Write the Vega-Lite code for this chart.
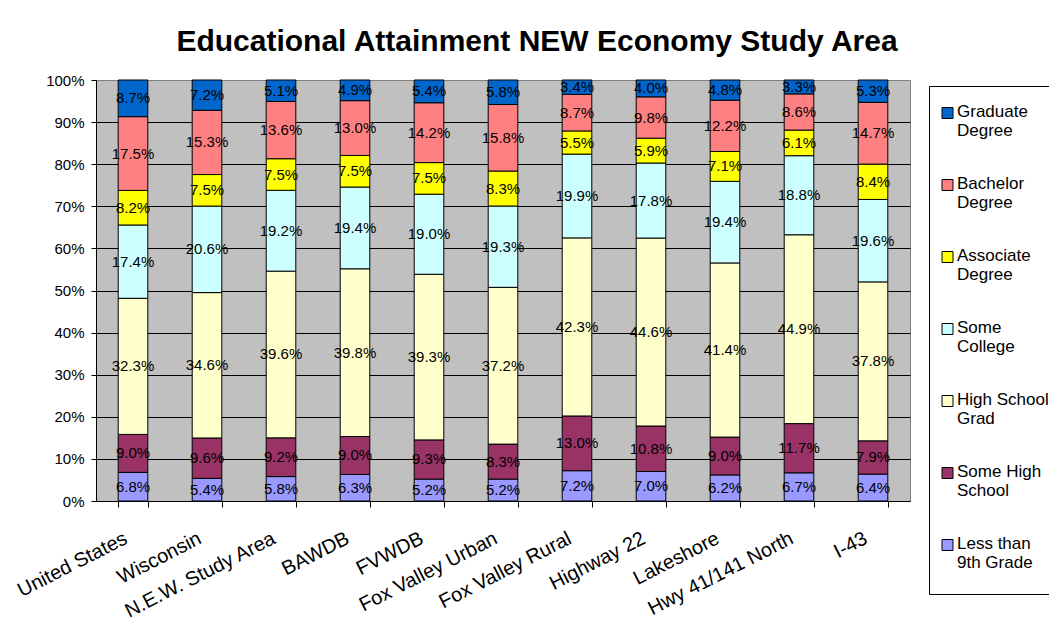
{
  "$schema": "https://vega.github.io/schema/vega-lite/v6.json",
  "width": 814,
  "height": 421,
  "autosize": "none",
  "padding": {"left": 96, "top": 80, "right": 139, "bottom": 118},
  "background": "white",
  "title": {"text": "Educational Attainment NEW Economy Study Area", "fontSize": 30, "fontWeight": "bold", "font": "Liberation Sans", "color": "black", "anchor": "middle", "dx": 34, "offset": 16},
  "data": {"values": [
    {"area": "United States", "level": 1, "education": "Less than 9th Grade", "share": 0.068},
    {"area": "United States", "level": 2, "education": "Some High School", "share": 0.090},
    {"area": "United States", "level": 3, "education": "High School Grad", "share": 0.323},
    {"area": "United States", "level": 4, "education": "Some College", "share": 0.174},
    {"area": "United States", "level": 5, "education": "Associate Degree", "share": 0.082},
    {"area": "United States", "level": 6, "education": "Bachelor Degree", "share": 0.175},
    {"area": "United States", "level": 7, "education": "Graduate Degree", "share": 0.087},
    {"area": "Wisconsin", "level": 1, "education": "Less than 9th Grade", "share": 0.054},
    {"area": "Wisconsin", "level": 2, "education": "Some High School", "share": 0.096},
    {"area": "Wisconsin", "level": 3, "education": "High School Grad", "share": 0.346},
    {"area": "Wisconsin", "level": 4, "education": "Some College", "share": 0.206},
    {"area": "Wisconsin", "level": 5, "education": "Associate Degree", "share": 0.075},
    {"area": "Wisconsin", "level": 6, "education": "Bachelor Degree", "share": 0.153},
    {"area": "Wisconsin", "level": 7, "education": "Graduate Degree", "share": 0.072},
    {"area": "N.E.W. Study Area", "level": 1, "education": "Less than 9th Grade", "share": 0.058},
    {"area": "N.E.W. Study Area", "level": 2, "education": "Some High School", "share": 0.092},
    {"area": "N.E.W. Study Area", "level": 3, "education": "High School Grad", "share": 0.396},
    {"area": "N.E.W. Study Area", "level": 4, "education": "Some College", "share": 0.192},
    {"area": "N.E.W. Study Area", "level": 5, "education": "Associate Degree", "share": 0.075},
    {"area": "N.E.W. Study Area", "level": 6, "education": "Bachelor Degree", "share": 0.136},
    {"area": "N.E.W. Study Area", "level": 7, "education": "Graduate Degree", "share": 0.051},
    {"area": "BAWDB", "level": 1, "education": "Less than 9th Grade", "share": 0.063},
    {"area": "BAWDB", "level": 2, "education": "Some High School", "share": 0.090},
    {"area": "BAWDB", "level": 3, "education": "High School Grad", "share": 0.398},
    {"area": "BAWDB", "level": 4, "education": "Some College", "share": 0.194},
    {"area": "BAWDB", "level": 5, "education": "Associate Degree", "share": 0.075},
    {"area": "BAWDB", "level": 6, "education": "Bachelor Degree", "share": 0.130},
    {"area": "BAWDB", "level": 7, "education": "Graduate Degree", "share": 0.049},
    {"area": "FVWDB", "level": 1, "education": "Less than 9th Grade", "share": 0.052},
    {"area": "FVWDB", "level": 2, "education": "Some High School", "share": 0.093},
    {"area": "FVWDB", "level": 3, "education": "High School Grad", "share": 0.393},
    {"area": "FVWDB", "level": 4, "education": "Some College", "share": 0.190},
    {"area": "FVWDB", "level": 5, "education": "Associate Degree", "share": 0.075},
    {"area": "FVWDB", "level": 6, "education": "Bachelor Degree", "share": 0.142},
    {"area": "FVWDB", "level": 7, "education": "Graduate Degree", "share": 0.054},
    {"area": "Fox Valley Urban", "level": 1, "education": "Less than 9th Grade", "share": 0.052},
    {"area": "Fox Valley Urban", "level": 2, "education": "Some High School", "share": 0.083},
    {"area": "Fox Valley Urban", "level": 3, "education": "High School Grad", "share": 0.372},
    {"area": "Fox Valley Urban", "level": 4, "education": "Some College", "share": 0.193},
    {"area": "Fox Valley Urban", "level": 5, "education": "Associate Degree", "share": 0.083},
    {"area": "Fox Valley Urban", "level": 6, "education": "Bachelor Degree", "share": 0.158},
    {"area": "Fox Valley Urban", "level": 7, "education": "Graduate Degree", "share": 0.058},
    {"area": "Fox Valley Rural", "level": 1, "education": "Less than 9th Grade", "share": 0.072},
    {"area": "Fox Valley Rural", "level": 2, "education": "Some High School", "share": 0.130},
    {"area": "Fox Valley Rural", "level": 3, "education": "High School Grad", "share": 0.423},
    {"area": "Fox Valley Rural", "level": 4, "education": "Some College", "share": 0.199},
    {"area": "Fox Valley Rural", "level": 5, "education": "Associate Degree", "share": 0.055},
    {"area": "Fox Valley Rural", "level": 6, "education": "Bachelor Degree", "share": 0.087},
    {"area": "Fox Valley Rural", "level": 7, "education": "Graduate Degree", "share": 0.034},
    {"area": "Highway 22", "level": 1, "education": "Less than 9th Grade", "share": 0.070},
    {"area": "Highway 22", "level": 2, "education": "Some High School", "share": 0.108},
    {"area": "Highway 22", "level": 3, "education": "High School Grad", "share": 0.446},
    {"area": "Highway 22", "level": 4, "education": "Some College", "share": 0.178},
    {"area": "Highway 22", "level": 5, "education": "Associate Degree", "share": 0.059},
    {"area": "Highway 22", "level": 6, "education": "Bachelor Degree", "share": 0.098},
    {"area": "Highway 22", "level": 7, "education": "Graduate Degree", "share": 0.040},
    {"area": "Lakeshore", "level": 1, "education": "Less than 9th Grade", "share": 0.062},
    {"area": "Lakeshore", "level": 2, "education": "Some High School", "share": 0.090},
    {"area": "Lakeshore", "level": 3, "education": "High School Grad", "share": 0.414},
    {"area": "Lakeshore", "level": 4, "education": "Some College", "share": 0.194},
    {"area": "Lakeshore", "level": 5, "education": "Associate Degree", "share": 0.071},
    {"area": "Lakeshore", "level": 6, "education": "Bachelor Degree", "share": 0.122},
    {"area": "Lakeshore", "level": 7, "education": "Graduate Degree", "share": 0.048},
    {"area": "Hwy 41/141 North", "level": 1, "education": "Less than 9th Grade", "share": 0.067},
    {"area": "Hwy 41/141 North", "level": 2, "education": "Some High School", "share": 0.117},
    {"area": "Hwy 41/141 North", "level": 3, "education": "High School Grad", "share": 0.449},
    {"area": "Hwy 41/141 North", "level": 4, "education": "Some College", "share": 0.188},
    {"area": "Hwy 41/141 North", "level": 5, "education": "Associate Degree", "share": 0.061},
    {"area": "Hwy 41/141 North", "level": 6, "education": "Bachelor Degree", "share": 0.086},
    {"area": "Hwy 41/141 North", "level": 7, "education": "Graduate Degree", "share": 0.033},
    {"area": "I-43", "level": 1, "education": "Less than 9th Grade", "share": 0.064},
    {"area": "I-43", "level": 2, "education": "Some High School", "share": 0.079},
    {"area": "I-43", "level": 3, "education": "High School Grad", "share": 0.378},
    {"area": "I-43", "level": 4, "education": "Some College", "share": 0.196},
    {"area": "I-43", "level": 5, "education": "Associate Degree", "share": 0.084},
    {"area": "I-43", "level": 6, "education": "Bachelor Degree", "share": 0.147},
    {"area": "I-43", "level": 7, "education": "Graduate Degree", "share": 0.053}
  ]},
  "encoding": {
    "x": {
      "field": "area", "type": "nominal",
      "sort": ["United States", "Wisconsin", "N.E.W. Study Area", "BAWDB", "FVWDB", "Fox Valley Urban", "Fox Valley Rural", "Highway 22", "Lakeshore", "Hwy 41/141 North", "I-43"],
      "scale": {"paddingInner": 0.6, "paddingOuter": 0.3},
      "axis": {"title": null, "labelAngle": -27, "labelAlign": "right", "labelBaseline": "top", "labelFontSize": 20, "labelColor": "black", "labelFont": "Liberation Sans", "tickBand": "extent", "tickColor": "black", "tickSize": 6, "domainColor": "black", "labelPadding": 21, "labelOffset": -12, "labelLimit": 0, "labelOverlap": false}
    },
    "y": {
      "field": "share", "type": "quantitative", "stack": "normalize",
      "scale": {"domain": [0, 1]},
      "axis": {"title": null, "values": [0, 0.1, 0.2, 0.3, 0.4, 0.5, 0.6, 0.7, 0.8, 0.9, 1], "format": ".0%", "labelFontSize": 15, "labelColor": "black", "labelFont": "Liberation Sans", "tickColor": "black", "tickSize": 5, "domainColor": "black", "grid": true, "gridColor": {"condition": {"test": "datum.value == 1", "value": "#808080"}, "value": "black"}, "gridOpacity": 1, "labelPadding": 7}
    },
    "order": {"field": "level", "type": "quantitative", "sort": "ascending"}
  },
  "layer": [
    {
      "mark": {"type": "bar", "stroke": "black", "strokeWidth": 1},
      "encoding": {
        "color": {
          "field": "education", "type": "nominal",
          "scale": {
            "domain": ["Graduate Degree", "Bachelor Degree", "Associate Degree", "Some College", "High School Grad", "Some High School", "Less than 9th Grade"],
            "range": ["#0066CC", "#FF8080", "#FFFF00", "#CCFFFF", "#FFFFCC", "#993366", "#9999FF"]
          },
          "legend": {
            "title": " ", "titleOrient": "bottom", "titleFontSize": 8, "titlePadding": 5,
            "orient": "none", "legendX": 833, "legendY": 6,
            "strokeColor": "black", "fillColor": "white", "padding": 10,
            "symbolType": "square", "symbolSize": 121, "symbolStrokeColor": "black", "symbolStrokeWidth": 1, "symbolOpacity": 1,
            "labelFontSize": 17, "labelFont": "Liberation Sans", "labelColor": "black", "labelLineHeight": 21, "labelBaseline": "top",
            "rowPadding": 29, "labelLimit": 0, "labelOffset": 1,
            "labelExpr": "datum.label == 'Graduate Degree' ? ['Graduate', 'Degree'] : datum.label == 'Bachelor Degree' ? ['Bachelor', 'Degree'] : datum.label == 'Associate Degree' ? ['Associate', 'Degree'] : datum.label == 'Some College' ? ['Some', 'College'] : datum.label == 'High School Grad' ? ['High School', 'Grad'] : datum.label == 'Some High School' ? ['Some High', 'School'] : ['Less than', '9th Grade']",
            "encode": {"symbols": {"update": {"y": {"value": 17}}}, "labels": {"update": {"dy": {"value": -0.5}}}}
          }
        }
      }
    },
    {
      "mark": {"type": "text", "fontSize": 15, "color": "black", "font": "Liberation Sans"},
      "encoding": {
        "y": {"field": "share", "type": "quantitative", "stack": "normalize", "bandPosition": 0.5},
        "detail": {"field": "education"},
        "text": {"field": "share", "type": "quantitative", "format": ".1%"}
      }
    }
  ],
  "config": {"view": {"fill": "#C0C0C0", "stroke": "#808080"}, "font": "Liberation Sans"}
}
